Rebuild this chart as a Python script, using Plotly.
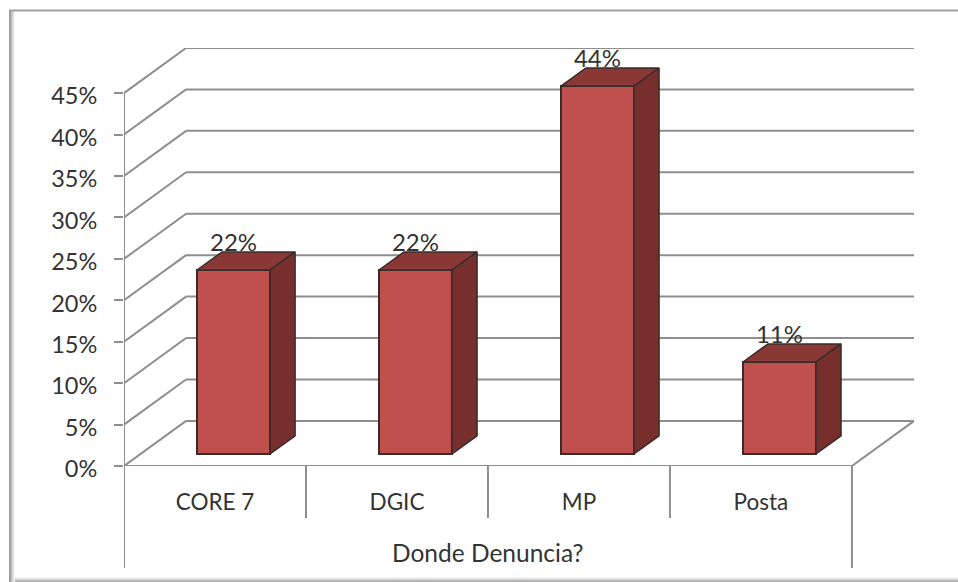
import plotly.graph_objects as go

categories = ["CORE 7", "DGIC", "MP", "Posta"]
values = [22.2, 22.2, 44.4, 11.1]
value_labels = ["22%", "22%", "44%", "11%"]
y_ticks = [0, 5, 10, 15, 20, 25, 30, 35, 40, 45]
axis_title = "Donde Denuncia?"

W, H = 958, 582
L, R, T, B = 124, 914, 48, 466
PX_X = (851 - 124) / 4
PX_Y = (466 - 94) / 45
WALL_DX, WALL_DY = 62 / PX_X, 45 / PX_Y
BAR_SHIFT, BAR_W = 18.5 / PX_X, 73 / PX_X
BAR_BASE = 12 / PX_Y
DEPTH_X, DEPTH_Y = 25 / PX_X, 18 / PX_Y
X0, X1 = -0.5, 3.5
GRID = "#8e8e8e"
EDGE = "#3a2b2b"
FONT = "Lato"
TXT = "#333333"


def px(x):
    return (x - L) / (R - L)


def py(y):
    return (B - y) / (B - T)


shapes = []


def seg(xa, ya, xb, yb, xref="x", yref="y", color=GRID, width=2):
    shapes.append(dict(type="line", xref=xref, yref=yref, x0=xa, y0=ya, x1=xb, y1=yb,
                       layer="below", line=dict(color=color, width=width)))


for v in y_ticks:
    seg(X0, v, X0 + WALL_DX, v + WALL_DY)
    seg(X0 + WALL_DX, v + WALL_DY, X1 + WALL_DX, v + WALL_DY)
seg(X1, 0, X1 + WALL_DX, WALL_DY)
seg(X0, 0, X1, 0)
seg(X0, 0, X0, y_ticks[-1])
for i in range(len(categories) + 1):
    b = X0 + i
    low = 568 if i in (0, len(categories)) else 518
    shapes.append(dict(type="line", xref="x", yref="paper", x0=b, x1=b, y0=0, y1=py(low),
                       layer="below", line=dict(color=GRID, width=2)))

# outer picture frame (decoration)
for xa, col in zip(range(9, 15), ["#9a9a9a", "#a8a8a8", "#bdbdbd", "#d2d2d2", "#e6e6e6", "#f4f4f4"]):
    shapes.append(dict(type="line", xref="paper", yref="paper", x0=px(xa + .5), x1=px(xa + .5),
                       y0=py(10), y1=py(582), layer="below", line=dict(color=col, width=1)))
shapes.append(dict(type="line", xref="paper", yref="paper", x0=px(9), x1=px(958), y0=py(10.5), y1=py(10.5),
                   layer="below", line=dict(color="#a0a0a0", width=2)))
for ya, col in zip(range(577, 582), ["#f4f4f4", "#e6e6e6", "#d2d2d2", "#bdbdbd", "#b0b0b0"]):
    shapes.append(dict(type="line", xref="paper", yref="paper", x0=px(15), x1=px(958), y0=py(ya + .5), y1=py(ya + .5),
                       layer="below", line=dict(color=col, width=1)))

fig = go.Figure()

# front faces
fig.add_trace(go.Bar(
    x=[i + BAR_SHIFT for i in range(len(values))], y=values, base=[BAR_BASE] * len(values),
    width=BAR_W, marker=dict(color="#c0504d", line=dict(color=EDGE, width=2)),
    hoverinfo="skip", showlegend=False))

# value labels, under the top faces
fig.add_trace(go.Scatter(
    x=[i + BAR_SHIFT for i in range(len(values))], y=[v + BAR_BASE + 3.0 for v in values],
    mode="text", text=value_labels, textposition="middle center",
    textfont=dict(family=FONT, size=24, color=TXT), cliponaxis=False,
    hoverinfo="skip", showlegend=False))

# top and side faces
for i, v in enumerate(values):
    xl = i + BAR_SHIFT - BAR_W / 2
    xr = i + BAR_SHIFT + BAR_W / 2
    top = v + BAR_BASE
    fig.add_trace(go.Scatter(
        x=[xl, xr, xr + DEPTH_X, xl + DEPTH_X, xl], y=[top, top, top + DEPTH_Y, top + DEPTH_Y, top],
        mode="lines", fill="toself", fillcolor="#8a3836", line=dict(color=EDGE, width=1.5),
        hoverinfo="skip", showlegend=False))
    fig.add_trace(go.Scatter(
        x=[xr, xr + DEPTH_X, xr + DEPTH_X, xr, xr],
        y=[BAR_BASE, BAR_BASE + DEPTH_Y, top + DEPTH_Y, top, BAR_BASE],
        mode="lines", fill="toself", fillcolor="#772f2d", line=dict(color=EDGE, width=1.5),
        hoverinfo="skip", showlegend=False))

fig.update_layout(
    width=W, height=H, autosize=False,
    margin=dict(l=L, r=W - R, t=T, b=H - B, pad=0),
    paper_bgcolor="white", plot_bgcolor="white",
    font=dict(family=FONT, color=TXT),
    shapes=shapes, bargap=0,
    annotations=[dict(
        text=axis_title, x=(X0 + X1) / 2, xref="x", y=py(552), yref="paper",
        xanchor="center", yanchor="middle", showarrow=False,
        font=dict(family=FONT, size=24.5, color=TXT))],
    xaxis=dict(
        range=[X0, X1 + WALL_DX], tickmode="array", tickvals=list(range(len(categories))),
        ticktext=categories, ticks="", showgrid=False, zeroline=False, showline=False,
        tickfont=dict(family=FONT, size=22.5, color=TXT), ticklabelstandoff=20,
    ),
    yaxis=dict(
        range=[0, y_ticks[-1] + WALL_DY], tickmode="array", tickvals=y_ticks,
        ticktext=[f"{v}%" for v in y_ticks], ticks="outside", ticklen=9, tickwidth=2,
        tickcolor=GRID, showgrid=False, zeroline=False, showline=False,
        tickfont=dict(family=FONT, size=23.5, color=TXT), ticklabelstandoff=12,
        ticklabelshift=3,
    ),
)

fig.write_html("out.html", post_script="document.body.style.margin='0';",
               config={"displayModeBar": False})
